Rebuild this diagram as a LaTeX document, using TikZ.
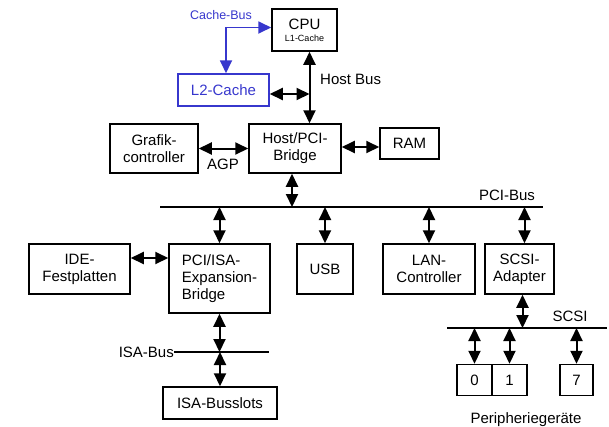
\documentclass[tikz,border=0pt]{standalone}
\usepackage{fontspec}
\setmainfont{Liberation Sans}
\usetikzlibrary{arrows.meta}
\definecolor{cbus}{RGB}{55,55,205}
\tikzset{
  box/.style={draw, line width=1.5pt, inner sep=0pt, align=center, font=\fontsize{15}{17}\selectfont},
  dbl/.style={line width=2pt, {Triangle[length=13pt,width=12pt]}-{Triangle[length=13pt,width=12pt]}},
  bus/.style={line width=1.5pt},
  lbl/.style={font=\fontsize{15}{17}\selectfont, inner sep=0pt},
}
\begin{document}
\begin{tikzpicture}[x=1pt,y=-1pt]
\useasboundingbox (0,0) rectangle (609,426);
% boxes
\node[box, minimum width=65pt, minimum height=42pt] (cpu) at (304.5,30)
  {CPU\\[-5pt]\fontsize{9}{10}\selectfont L1-Cache};
\node[box, draw=cbus, text=cbus, minimum width=91pt, minimum height=32pt] (l2) at (223.5,90) {L2-Cache};
\node[box, minimum width=88pt, minimum height=49pt] (graf) at (154,148.5) {Grafik-\\controller};
\node[box, minimum width=92pt, minimum height=49pt] (hpb) at (295,148.5) {Host/PCI-\\Bridge};
\node[box, minimum width=59pt, minimum height=31pt] (ram) at (409.5,143.5) {RAM};
\node[box, minimum width=101pt, minimum height=50pt] (ide) at (79.5,269) {IDE-\\Festplatten};
\node[box, align=left, minimum width=101pt, minimum height=69pt] (pisa) at (219.5,278.5) {PCI/ISA-\\Expansion-\\Bridge};
\node[box, minimum width=56pt, minimum height=50pt] (usb) at (325,269) {USB};
\node[box, minimum width=92pt, minimum height=50pt] (lan) at (429,269) {LAN-\\Controller};
\node[box, minimum width=69pt, minimum height=50pt] (scsi) at (519.5,269) {SCSI-\\Adapter};
\node[box, minimum width=114pt, minimum height=32pt] (slots) at (220,403) {ISA-Busslots};
\node[box, minimum width=35pt, minimum height=31pt] (d0) at (474.5,380) {0};
\node[box, minimum width=35pt, minimum height=31pt] (d1) at (509.5,380) {1};
\node[box, minimum width=33pt, minimum height=31pt] (d7) at (576.5,380) {7};
% bus lines
\coordinate (pcil) at (160,207);
\coordinate (pcir) at (543,207);
\draw[bus] (pcil) -- (pcir);
\coordinate (isal) at (174,352);
\coordinate (isar) at (269,352);
\draw[bus] (isal) -- (isar);
\coordinate (scsil) at (447,328);
\coordinate (scsir) at (607,328);
\draw[bus] (scsil) -- (scsir);
% labels
\node[lbl] (cbl) at (221,15) {\fontsize{12.5}{14}\selectfont\color{cbus}Cache-Bus};
\node[lbl, anchor=west] (hbl) at (320,79) {Host Bus};
\node[lbl] (agpl) at (223,164) {AGP};
\node[lbl] (pcibl) at (507,195) {PCI-Bus};
\node[lbl, anchor=east] (isabl) at (isal) {ISA-Bus};
\node[lbl] (scsibl) at (570,316) {SCSI};
\node[lbl, anchor=base] (perl) at (526,423) {Peripheriegeräte};
% connectors
\coordinate (hbt) at ([xshift=5pt]cpu.south);
\draw[dbl] (hbt) -- (hbt |- hpb.north);
\draw[dbl] ([yshift=-4pt]l2.east) -- ([yshift=-4pt]l2.east -| hbt);
\draw[dbl, color=cbus, line width=1.8pt] ([xshift=2.5pt]l2.north) |- ([yshift=2.5pt]cpu.west);
\draw[dbl] (graf.east) -- (hpb.west);
\draw[dbl] ([yshift=-3.5pt]ram.west) -- ([yshift=-3.5pt]ram.west -| hpb.east);
\draw[dbl] ([xshift=-3pt]hpb.south) -- ([xshift=-3pt]hpb.south |- pcil);
\draw[dbl] (pisa.north |- pcil) -- (pisa.north);
\draw[dbl] (usb.north |- pcil) -- (usb.north);
\draw[dbl] (lan.north |- pcil) -- (lan.north);
\draw[dbl] ([xshift=5pt]scsi.north |- pcil) -- ([xshift=5pt]scsi.north);
\draw[dbl] ([yshift=11pt]ide.east) -- ([yshift=11pt]ide.east -| pisa.west);
\draw[dbl] (pisa.south) -- (pisa.south |- isal);
\draw[dbl] (slots.north |- isal) -- (slots.north);
\draw[dbl] ([xshift=3pt]scsi.south) -- ([xshift=3pt]scsi.south |- scsil);
\draw[dbl] (d0.north |- scsil) -- (d0.north);
\draw[dbl] (d1.north |- scsil) -- (d1.north);
\draw[dbl] (d7.north |- scsil) -- (d7.north);
\end{tikzpicture}
\end{document}
